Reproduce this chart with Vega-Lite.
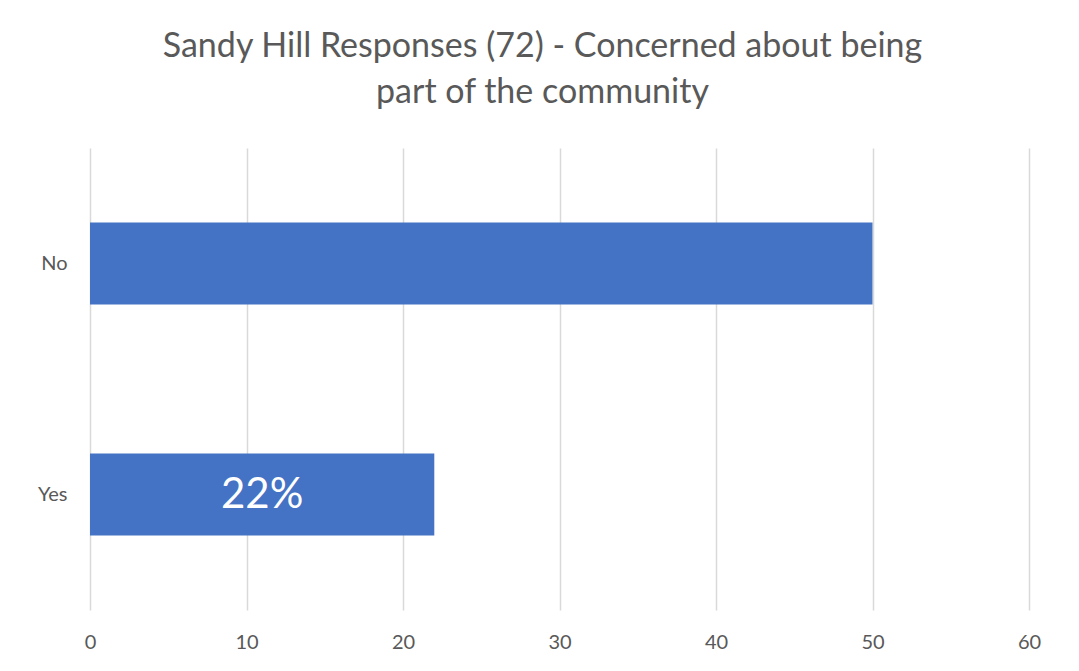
{
  "$schema": "https://vega.github.io/schema/vega-lite/v6.json",
  "autosize": {"type": "none"},
  "width": 939,
  "height": 462,
  "padding": {"left": 90, "top": 148, "right": 50, "bottom": 61},
  "background": "white",
  "title": {
    "text": ["Sandy Hill Responses (72) - Concerned about being", "part of the community"],
    "font": "Lato",
    "fontSize": 34,
    "fontWeight": "normal",
    "color": "#595959",
    "lineHeight": 46,
    "anchor": "middle",
    "frame": "group",
    "dx": -17,
    "offset": 38
  },
  "data": {
    "values": [
      {"answer": "No", "count": 50, "label": ""},
      {"answer": "Yes", "count": 22, "label": "22%"}
    ]
  },
  "config": {
    "view": {"stroke": null},
    "axis": {
      "labelFont": "Lato",
      "labelFontSize": 20,
      "labelColor": "#595959",
      "domain": false,
      "ticks": false,
      "title": null
    }
  },
  "layer": [
    {
      "mark": {"type": "bar", "color": "#4472C4"},
      "encoding": {
        "y": {
          "field": "answer",
          "type": "nominal",
          "sort": ["No", "Yes"],
          "scale": {"paddingInner": 0.645, "paddingOuter": 0.3225},
          "axis": {"labelPadding": 23, "grid": false}
        },
        "x": {
          "field": "count",
          "type": "quantitative",
          "scale": {"domain": [0, 60], "nice": false},
          "axis": {
            "values": [0, 10, 20, 30, 40, 50, 60],
            "grid": true,
            "gridColor": "#d9d9d9",
            "gridWidth": 1.5,
            "labelFlush": false,
            "labelPadding": 22
          }
        }
      }
    },
    {
      "transform": [{"calculate": "datum.count / 2", "as": "mid"}],
      "mark": {"type": "text", "font": "Lato", "fontSize": 42, "color": "white", "baseline": "middle", "align": "center"},
      "encoding": {
        "y": {"field": "answer", "type": "nominal", "sort": ["No", "Yes"]},
        "x": {"field": "mid", "type": "quantitative"},
        "text": {"field": "label"}
      }
    }
  ]
}
